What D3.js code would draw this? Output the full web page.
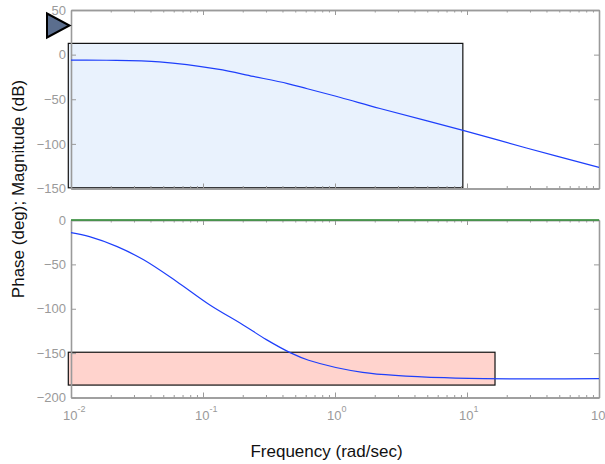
<!DOCTYPE html>
<html><head><meta charset="utf-8">
<script src="https://cdn.jsdelivr.net/npm/d3@7"></script>
<style>
html,body{margin:0;padding:0;background:#fff;}
svg{display:block;font-family:"Liberation Sans",Arial,Helvetica,sans-serif;}
</style></head>
<body>
<svg id="c" width="605" height="464"></svg>
<script>
// ---- data ----
const magFreq = [0.01, 0.0186, 0.0468, 0.129, 0.24, 0.437, 0.617, 1.10, 2.19, 9.33, 28.2, 100];
const magDb   = [-6.2, -6.3, -8.1, -16.3, -24.4, -32.4, -38.2, -48.0, -60.4, -84.8, -104.6, -126.4];
const phFreq  = [0.01, 0.0138, 0.0224, 0.0355, 0.0631, 0.112, 0.2, 0.302, 0.457, 0.631, 1.62, 7.41, 100];
const phDeg   = [-14.3, -18.8, -30, -44.9, -69.3, -95.5, -118, -134.8, -149.4, -158, -171.6, -177.9, -178.7];
const magTicks = [50, 0, -50, -100, -150];
const phTicks  = [0, -50, -100, -150, -200];
const decadeExps = [-2, -1, 0, 1, 2];
// annotation boxes in data units [f0, f1, v0, v1]
const magBox = [0.00954, 9.3, 12.6, -149.2];
const phBox  = [0.00954, 16.3, -149, -186];

const svg = d3.select("#c");
const gray = "#9a9a9a";
const x = d3.scaleLog().domain([0.01, 100]).range([71, 599]);
const yM = d3.scaleLinear().domain([-150, 50]).range([188.5, 10]);
const yP = d3.scaleLinear().domain([-200, 0]).range([397.5, 220]);

const majors = decadeExps.map(e => Math.pow(10, e));
const minors = [];
for (let e = -2; e < 2; e++) for (let k = 2; k <= 9; k++) minors.push(k * Math.pow(10, e));

function panel(y, yTicks, box, boxFill, showLabels) {
  const g = svg.append("g");
  const [x0, x1] = x.range();
  const [yb, yt] = y.range();
  g.append("rect")
    .attr("x", x(box[0])).attr("y", y(box[2]))
    .attr("width", x(box[1]) - x(box[0])).attr("height", y(box[3]) - y(box[2]))
    .attr("fill", boxFill).attr("stroke", "#111").attr("stroke-width", 1.2);
  const yl = d3.axisLeft(y).tickValues(yTicks).tickSizeInner(-5).tickSizeOuter(0).tickPadding(5);
  const yr = d3.axisRight(y).tickValues(yTicks).tickSizeInner(-5).tickSizeOuter(0).tickFormat("");
  const xbMaj = d3.axisBottom(x).tickValues(majors).tickSizeInner(-5).tickSizeOuter(0).tickFormat("");
  const xbMin = d3.axisBottom(x).tickValues(minors).tickSizeInner(-2.5).tickSizeOuter(0).tickFormat("");
  const xtMaj = d3.axisTop(x).tickValues(majors).tickSizeInner(-5).tickSizeOuter(0).tickFormat("");
  const xtMin = d3.axisTop(x).tickValues(minors).tickSizeInner(-2.5).tickSizeOuter(0).tickFormat("");
  const ax = [];
  ax.push(g.append("g").attr("transform", `translate(${x0},0)`).call(yl));
  ax.push(g.append("g").attr("transform", `translate(${x1},0)`).call(yr));
  ax.push(g.append("g").attr("transform", `translate(0,${yb})`).call(xbMaj));
  ax.push(g.append("g").attr("transform", `translate(0,${yb})`).call(xbMin));
  ax.push(g.append("g").attr("transform", `translate(0,${yt})`).call(xtMaj));
  ax.push(g.append("g").attr("transform", `translate(0,${yt})`).call(xtMin));
  ax.forEach(a => {
    a.selectAll("path.domain").attr("stroke", gray).attr("stroke-width", 1.6);
    a.selectAll(".tick line").attr("stroke", gray).attr("stroke-width", 1);
    a.selectAll(".tick text").attr("fill", gray).attr("font-size", 13)
      .attr("font-family", "'Liberation Sans',Arial,Helvetica,sans-serif");
  });
  if (showLabels) {
    const lab = g.append("g");
    decadeExps.forEach(e => {
      const t = lab.append("text").attr("x", x(Math.pow(10, e)) - 8).attr("y", yb + 22.5)
        .attr("fill", gray).attr("font-size", 13);
      t.append("tspan").text("10");
      t.append("tspan").attr("font-size", 9).attr("dy", -8).text(String(e));
    });
  }
  return g;
}

const gM = panel(yM, magTicks, magBox, "rgba(226,238,252,0.75)", false);
const gP = panel(yP, phTicks, phBox, "rgba(255,196,188,0.75)", true);

gP.append("line").attr("x1", x(0.01)).attr("x2", x(100)).attr("y1", yP(0)).attr("y2", yP(0))
  .attr("stroke", "#2f8f35").attr("stroke-width", 1.6);

const line = d3.line().x(d => x(d[0])).y(d => d[1]).curve(d3.curveCatmullRom.alpha(0.5));
gM.append("path").datum(magFreq.map((f, i) => [f, yM(magDb[i])]))
  .attr("d", line).attr("fill", "none").attr("stroke", "#1e3ffb").attr("stroke-width", 1.2);
gP.append("path").datum(phFreq.map((f, i) => [f, yP(phDeg[i])]))
  .attr("d", line).attr("fill", "none").attr("stroke", "#1e3ffb").attr("stroke-width", 1.2);

const tri = d3.path();
tri.moveTo(47, 13.5); tri.lineTo(69.5, 25.5); tri.lineTo(47, 37.5); tri.closePath();
svg.append("path").attr("d", tri.toString()).attr("fill", "#5b6e8e")
  .attr("stroke", "#000").attr("stroke-width", 2).attr("stroke-linejoin", "miter");

svg.append("text").attr("x", 326.5).attr("y", 457).attr("text-anchor", "middle")
  .attr("font-size", 17).attr("fill", "#111").text("Frequency (rad/sec)");
svg.append("text").attr("transform", "translate(23.5,189) rotate(-90)").attr("text-anchor", "middle")
  .attr("font-size", 17).attr("fill", "#111").text("Phase (deg); Magnitude (dB)");
</script>
</body></html>
